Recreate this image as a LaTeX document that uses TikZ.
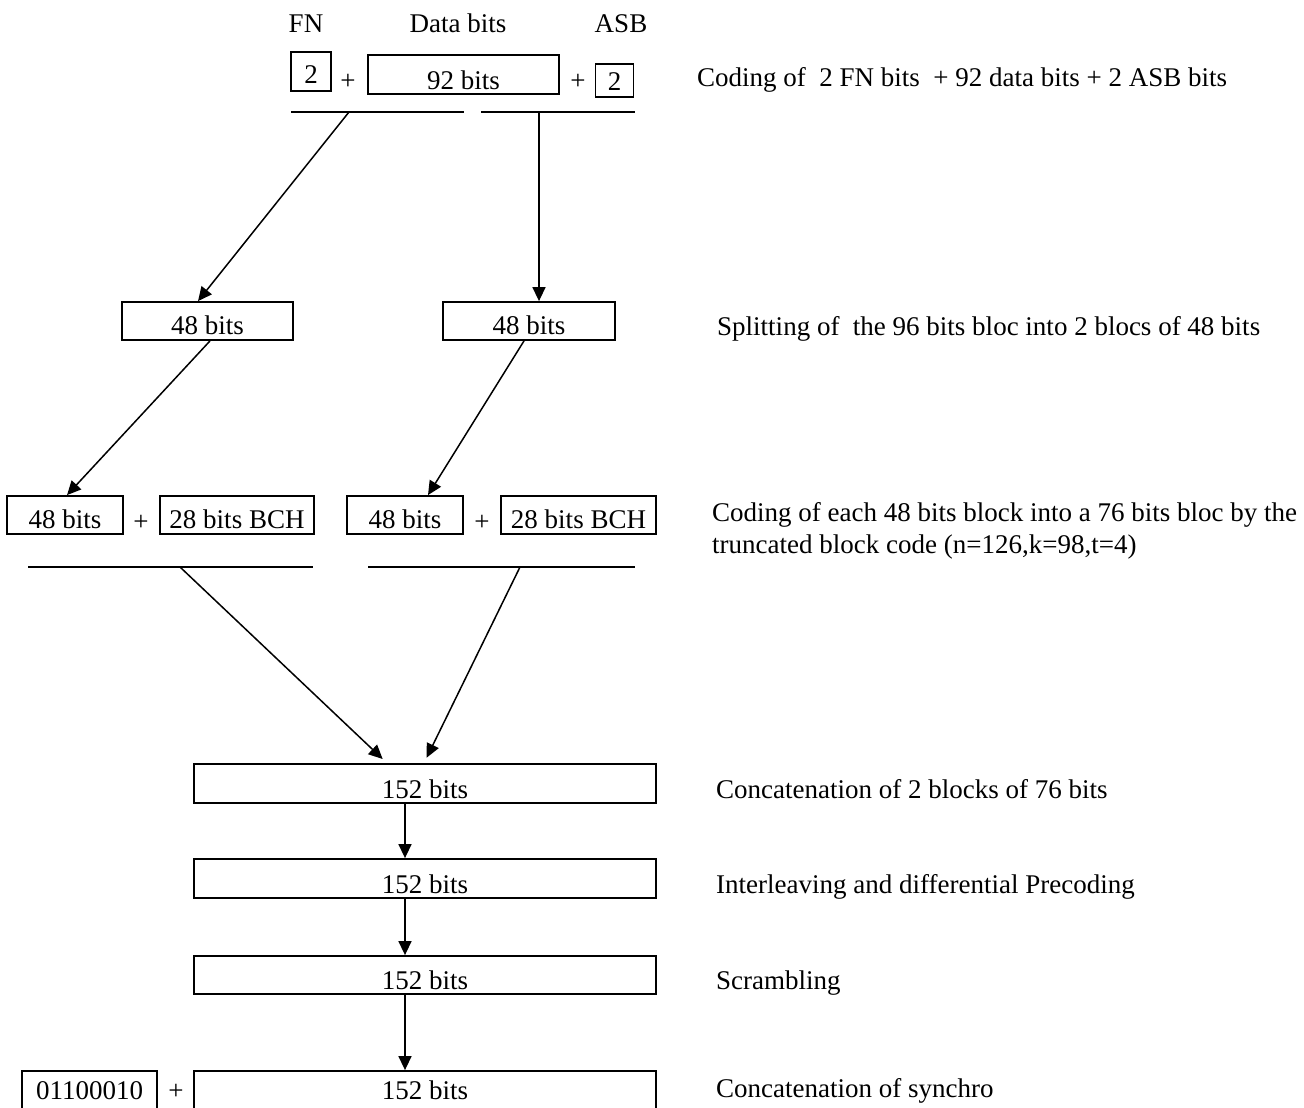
\documentclass[tikz,border=0pt]{standalone}
\usepackage{fontspec}
\setmainfont{Liberation Serif}
\usetikzlibrary{arrows.meta,calc}

\tikzset{
  bitbox/.style={draw, line width=1.8pt, inner xsep=0pt, inner ysep=1pt,
    text depth=5pt, anchor=center},
  plain/.style={inner sep=0pt, anchor=base},
  caption/.style={inner sep=0pt, anchor=base west, align=left},
  flow/.style={line width=1.5pt, -{Triangle[length=14pt,width=13pt]}},
  rule/.style={line width=1.8pt}
}

\begin{document}
\begin{tikzpicture}[x=1pt, y=-1pt, font=\fontsize{27}{32}\selectfont]
\useasboundingbox (0,0) rectangle (1304,1108);
\clip (0,0) rectangle (1304,1108);

% ---- field headers and the 96-bit input word
\node[plain] (hFN)  at (306,33) {FN};
\node[plain] (hData) at (458,33) {Data bits};
\node[plain] (hASB) at (621,33) {ASB};

\node[bitbox, minimum width=40pt, text height=31pt, text depth=6pt] (fn) at (311,71.5) {2};
\node[plain] (p1) at (348,89) {+};
\node[bitbox, minimum width=191pt, text height=33pt, text depth=4pt] (data) at (463.5,74.5) {92 bits};
\node[plain] (p2) at (578,89) {+};
\node[bitbox, minimum width=38pt, text height=25pt, text depth=6pt] (asb) at (614.5,80.5) {2};

\coordinate (uA1) at (291,112);
\coordinate (uA2) at (464,112);
\coordinate (uB1) at (481,112);
\coordinate (uB2) at (635,112);
\draw[rule] (uA1) -- (uA2);
\draw[rule] (uB1) -- (uB2);
\coordinate (sA) at (349,112);
\coordinate (sB) at (539,112);

\node[caption] (c1) at (697,87) {Coding of\ \ 2 FN bits\ \ + 92 data bits + 2 ASB bits};

% ---- splitting into two 48-bit halves
\node[bitbox, minimum width=171pt, text height=31pt] (hL) at (207.5,321) {48 bits};
\node[bitbox, minimum width=172pt, text height=31pt] (hR) at (529,321) {48 bits};
\draw[flow] (sA) -- (hL.north -| 198,0);
\draw[flow] (sB) -- (hR.north -| sB);

\node[caption] (c2) at (717,335) {Splitting of\ \ the 96 bits bloc into 2 blocs of 48 bits};

% ---- BCH coding of each half
\node[bitbox, minimum width=116pt, text height=31pt] (dL) at (65,515) {48 bits};
\node[plain] (p3) at (141,530) {+};
\node[bitbox, minimum width=154pt, text height=31pt] (bL) at (237,515) {28 bits BCH};
\node[bitbox, minimum width=116pt, text height=31pt] (dR) at (405,515) {48 bits};
\node[plain] (p4) at (482,530) {+};
\node[bitbox, minimum width=155pt, text height=31pt] (bR) at (578.5,515) {28 bits BCH};
\draw[flow] (hL.south -| 210,0) -- (dL.north -| 67,0);
\draw[flow] (hR.south -| 524,0) -- (dR.north -| 428,0);

\node[caption] (c3) at (712,553) {Coding of each 48 bits block into a 76 bits bloc by the\\[0pt]truncated block code (n=126,k=98,t=4)};

\coordinate (uC1) at (28,567);
\coordinate (uC2) at (313,567);
\coordinate (uD1) at (368,567);
\coordinate (uD2) at (635,567);
\draw[rule] (uC1) -- (uC2);
\draw[rule] (uD1) -- (uD2);
\coordinate (sC) at (180,567);
\coordinate (sD) at (520,567);

% ---- concatenation, interleaving, scrambling, synchro
\node[bitbox, minimum width=462pt, text height=33pt, text depth=4pt] (cat) at (425,783.5) {152 bits};
\node[bitbox, minimum width=462pt, text height=33pt, text depth=4pt] (ilv) at (425,878.5) {152 bits};
\node[bitbox, minimum width=462pt, text height=32pt, text depth=4pt] (scr) at (425,975) {152 bits};
\node[bitbox, minimum width=462pt, text height=27pt, text depth=51pt] (syn) at (425,1111) {152 bits};
\node[bitbox, minimum width=135pt, text height=27pt, text depth=51pt] (sync) at (89.5,1111) {01100010};
\node[plain] (p5) at (176,1099) {+};

\draw[flow, shorten >=6pt] (sC) -- (cat.north -| 387,0);
\draw[flow, shorten >=6pt] (sD) -- (cat.north -| 424,0);
\draw[flow] (cat.south -| 405,0) -- (ilv.north -| 405,0);
\draw[flow] (ilv.south -| 405,0) -- (scr.north -| 405,0);
\draw[flow] (scr.south -| 405,0) -- (syn.north -| 405,0);

\node[caption] (c4) at (716,798) {Concatenation of 2 blocks of 76 bits};
\node[caption] (c5) at (716,893) {Interleaving and differential Precoding};
\node[caption] (c6) at (716,989) {Scrambling};
\node[caption] (c7) at (716,1097) {Concatenation of synchro};
\end{tikzpicture}
\end{document}
